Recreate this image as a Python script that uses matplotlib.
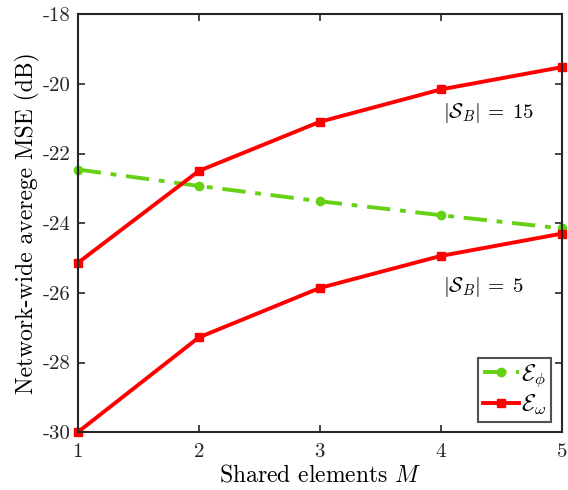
import matplotlib
matplotlib.use("Agg")
import matplotlib.pyplot as plt

plt.rcParams["font.family"] = "serif"
plt.rcParams["font.serif"] = ["cmr10"]
plt.rcParams["mathtext.fontset"] = "cm"
plt.rcParams["axes.unicode_minus"] = False

shared_m = [1, 2, 3, 4, 5]
e_phi = [-22.46, -22.93, -23.37, -23.77, -24.15]
e_omega_15 = [-25.14, -22.50, -21.09, -20.16, -19.52]
e_omega_5 = [-30.0, -27.28, -25.86, -24.94, -24.30]
y_ticks = [-30, -28, -26, -24, -22, -20, -18]

green = "#66D014"
red = "#FF0000"

fig = plt.figure(figsize=(5.68, 4.9), dpi=100)
ax = fig.add_axes([0.137, 0.118, 0.852, 0.853])

ax.plot(shared_m, e_phi, color=green, linestyle="-.", linewidth=2.8,
        marker="o", markersize=6, label=r"$\mathcal{E}_\phi$", clip_on=False,
        dashes=[6, 2.5, 1.5, 2.5])
ax.plot(shared_m, e_omega_15, color=red, linewidth=2.8, marker="s",
        markersize=6, label=r"$\mathcal{E}_\omega$", clip_on=False)
ax.plot(shared_m, e_omega_5, color=red, linewidth=2.8, marker="s",
        markersize=6, clip_on=False)

ax.text(4.02, -20.84, r"$|\mathcal{S}_B|\,=\;15$", fontsize=15, va="center")
ax.text(4.02, -25.84, r"$|\mathcal{S}_B|\,=\;5$", fontsize=15, va="center")

ax.set_xlim(1, 5)
ax.set_ylim(-30, -18)
ax.set_xticks(shared_m)
ax.set_xticklabels([str(m) for m in shared_m])
ax.set_yticks(y_ticks)
ax.set_yticklabels([str(t) for t in y_ticks])
ax.tick_params(direction="in", top=True, right=True, length=5, width=1.2,
               labelsize=15, colors="#262626", labelcolor="#262626", pad=5)
ax.tick_params(axis="x", pad=8)
for s in ax.spines.values():
    s.set_linewidth(1.5)
    s.set_color("#262626")

ax.set_xlabel(r"Shared elements $M$", fontsize=17, labelpad=2)
ax.set_ylabel("Network-wide averege MSE (dB)", fontsize=17, labelpad=2)

leg = ax.legend(loc="lower right", fontsize=17, handlelength=1.5,
                handletextpad=0.1, borderpad=0.2, labelspacing=0.15,
                fancybox=False, edgecolor="#262626", borderaxespad=0.45)
leg.get_frame().set_linewidth(1.5)

fig.savefig("out.png", dpi=100)
